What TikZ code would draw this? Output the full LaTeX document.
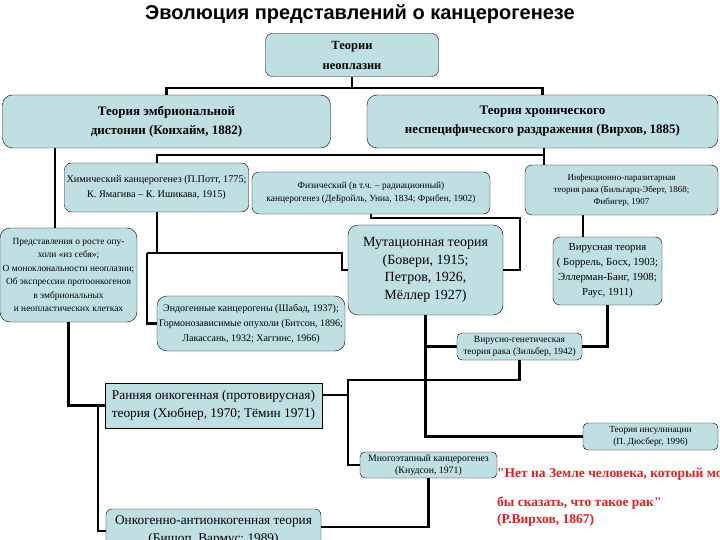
\documentclass[tikz,border=0pt]{standalone}
\usepackage{fontspec}
\setmainfont{Liberation Serif}
\newfontfamily\titlefont{Liberation Sans}
\newfontfamily\quotefont{Liberation Serif}[Ligatures=TeXOff]
\usepackage{tikz}
\usetikzlibrary{positioning}
\definecolor{boxblue}{RGB}{192,223,227}
\definecolor{quotered}{RGB}{222,32,30}
\tikzset{
    theory/.style={draw, thin, fill=boxblue, rounded corners=7pt, align=center, inner sep=1pt},
    plainbox/.style={draw, thin, fill=boxblue, align=center, inner sep=1pt},
    link/.style={draw, line width=2.3pt},
    fs/.style 2 args={font=\fontsize{#1}{#2}\selectfont},
    bfs/.style 2 args={font=\bfseries\fontsize{#1}{#2}\selectfont}
}

\begin{document}
\begin{tikzpicture}[x=1pt, y=-1pt]
    \clip (0,0) rectangle (720,540);
    \node[font=\titlefont\bfseries\fontsize{20}{22}\selectfont] (title) at (360,14) {Эволюция представлений о канцерогенезе};

    % Nodes
    \node[theory, bfs={12.5}{20}, minimum width=173pt, minimum height=43pt] (neo) at (352,55) {Теории\\неоплазии};
    \node[theory, rounded corners=10pt, bfs={13}{19}, minimum width=328pt, minimum height=53pt] (embr) at (166.5,121.5) {Теория эмбриональной\\дистонии (Конхайм, 1882)};
    \node[theory, rounded corners=10pt, bfs={13}{19}, minimum width=351pt, minimum height=53pt] (chron) at (542.5,121.5) {Теория хронического\\неспецифического раздражения (Вирхов, 1885)};
    \node[theory, fs={10.2}{15}, minimum width=184pt, minimum height=49pt] (chem) at (156.5,187.5) {Химический канцерогенез (П.Потт, 1775;\\К. Ямагива -- К. Ишикава, 1915)};
    \node[theory, fs={9.4}{13}, minimum width=238pt, minimum height=42pt] (phys) at (371,193) {Физический (в т.ч. -- радиационный)\\канцерогенез (ДеБройль, Униа, 1834; Фрибен, 1902)};
    \node[theory, fs={9}{12}, minimum width=193pt, minimum height=50pt] (infect) at (621.5,190) {Инфекционно-паразитарная\\теория рака (Бильгарц-Эберт, 1868;\\Фибигер, 1907};
    \node[theory, rounded corners=10pt, fs={9.4}{13.5}, minimum width=137pt, minimum height=94pt] (pred) at (68.5,275) {Представления о росте опу-\\холи «из себя»;\\О моноклональности неоплазии;\\Об экспрессии протоонкогенов\\в эмбриональных\\и неопластических клетках};
    \node[theory, rounded corners=10pt, fs={14}{17.5}, minimum width=155pt, minimum height=90pt] (mut) at (425.5,270) {Мутационная теория\\(Бовери, 1915;\\Петров, 1926,\\Мёллер 1927)};
    \node[theory, fs={10.8}{15}, minimum width=109pt, minimum height=68pt] (vir) at (607.5,271) {Вирусная теория\\( Боррель, Босх, 1903;\\Эллерман-Банг, 1908;\\Раус, 1911)};
    \node[theory, rounded corners=10pt, fs={10}{15}, minimum width=188pt, minimum height=55pt] (endo) at (251,323.5) {Эндогенные канцерогены (Шабад, 1937);\\Гормонозависимые опухоли (Битсон, 1896;\\Лакассань, 1932; Хаггинс, 1966)};
    \node[theory, rounded corners=5pt, fs={9.5}{12}, minimum width=125pt, minimum height=27pt] (virgen) at (519.5,346.5) {Вирусно-генетическая\\теория рака (Зильбер, 1942)};
    \node[plainbox, fs={13.3}{18}, minimum width=217pt, minimum height=45pt] (early) at (213.5,405.5) {Ранняя онкогенная (протовирусная)\\теория (Хюбнер, 1970; Тёмин 1971)};
    \node[theory, rounded corners=5pt, fs={9.3}{12}, minimum width=135pt, minimum height=27pt] (insul) at (650.5,436.5) {Теория инсулинации\\(П. Дюсберг, 1996)};
    \node[theory, rounded corners=5pt, fs={9.8}{12}, minimum width=137pt, minimum height=26pt] (multi) at (428.5,465) {Многоэтапный канцерогенез\\(Кнудсон, 1971)};
    \node[theory, rounded corners=6pt, fs={13.3}{18}, minimum width=215pt, minimum height=44pt] (onco) at (213.5,531) {Онкогенно-антионкогенная теория\\(Бишоп, Вармус; 1989)};
    \node[anchor=north west, align=left, text=quotered, inner sep=0pt, font=\quotefont\bfseries\fontsize{13.5}{17}\selectfont] (quote) at (497,468) {"Нет на Земле человека, который мог\\[12pt]бы сказать, что такое рак"\\(Р.Вирхов, 1867)};

    % edges
    \coordinate (split) at (352,88);
    \coordinate (busL) at (157,155);
    \coordinate (busR) at (544,155);
    \coordinate (forkL) at (147,253);
    \coordinate (forkR) at (342,253);
    \coordinate (physbend) at (520,218);
    \coordinate (vgbend) at (348,380);
    \draw[link] (neo.south) -- (split);
    \draw[link] (embr.north) |- (split) -| (chron.north);
    \draw[link] (embr.south -| 55,0) -- (pred.north -| 55,0);
    \draw[link] (chron.south -| busR) -- (infect.north -| busR);
    \draw[link] (busR) -- (busL) -- (chem.north -| busL);
    \draw[link] (chem.south -| busL) -- (busL |- forkL);
    \draw[link] (forkL) -- (forkR) |- (mut.west);
    \draw[link] (forkL) |- (endo.west);
    \draw[link] (phys.south) |- (physbend) |- (mut.east);
    \draw[link] (infect.south -| 583,0) -- (vir.north -| 583,0);
    \draw[link] (vir.south) |- (virgen.east);
    \draw[link] (mut.south) |- (insul.west);
    \draw[link] (mut.south |- virgen.west) -- (virgen.west);
    \draw[link] (virgen.south) |- (vgbend) |- (multi.west);
    \draw[link] (early.east |- 0,395) -- (vgbend |- 0,395);
    \draw[link] (pred.south) |- (early.west);
    \draw[link] (98,0 |- early.west) |- (onco.west);
    \draw[link] (multi.south) |- ([yshift=4pt]onco.east);
\end{tikzpicture}
\end{document}
